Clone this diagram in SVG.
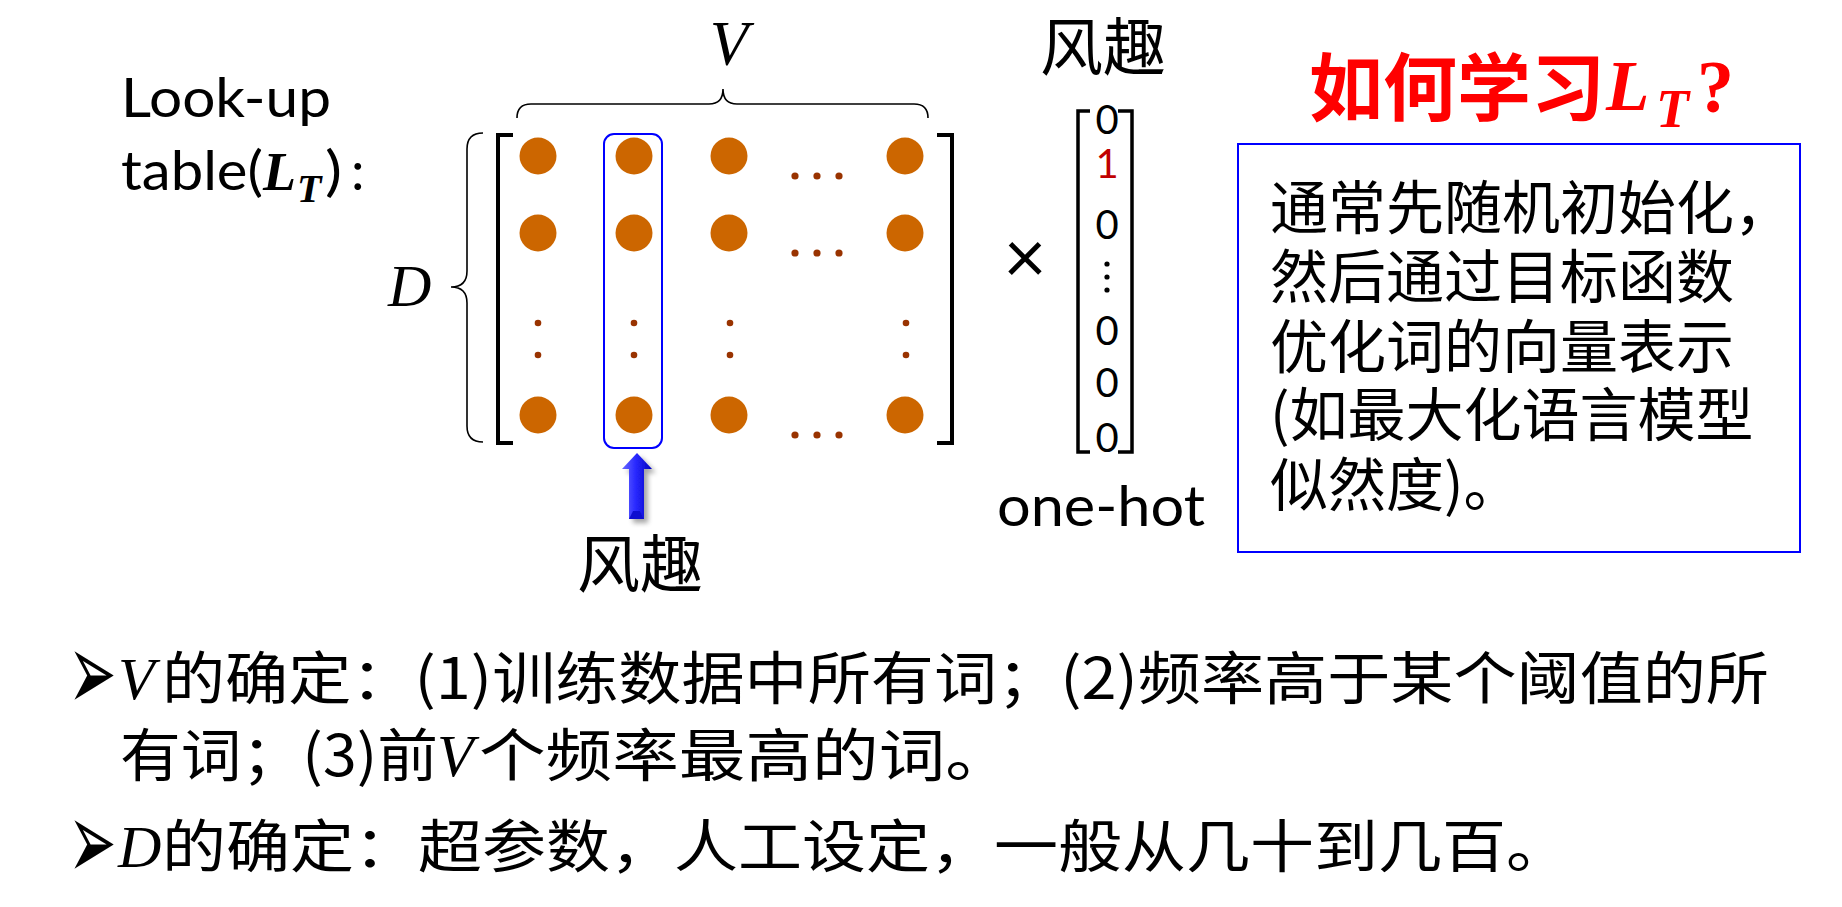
<svg xmlns="http://www.w3.org/2000/svg" width="1842" height="907" viewBox="0 0 1842 907">
<defs>
<linearGradient id="arrowGrad" x1="0" y1="0" x2="1" y2="0">
<stop offset="0" stop-color="#6a6aff"/>
<stop offset="0.45" stop-color="#2a2aff"/>
<stop offset="1" stop-color="#0000c0"/>
</linearGradient>
<filter id="shadow" x="-60%" y="-30%" width="220%" height="160%">
<feGaussianBlur in="SourceAlpha" stdDeviation="2.5"/>
<feOffset dx="4" dy="4"/>
<feComponentTransfer><feFuncA type="linear" slope="0.35"/></feComponentTransfer>
<feMerge><feMergeNode/><feMergeNode in="SourceGraphic"/></feMerge>
</filter>
</defs>
<style>
.lat{font-family:Lato,'Liberation Sans',sans-serif;fill:#000}
.cjk{font-family:'Noto Sans CJK SC',sans-serif;fill:#000}
.math{font-family:'Liberation Serif',serif;font-style:italic;fill:#000}
.bul{font-family:'DejaVu Sans',sans-serif;fill:#000}
.red{fill:#FF0000}
.big{fill:#CC6600}
.sm{fill:#993300}
.br{fill:none;stroke:#000;stroke-width:4}
.vbr{fill:none;stroke:#000;stroke-width:3.5}
.brace{fill:none;stroke:#000;stroke-width:1.6}
</style>
<rect width="1842" height="907" fill="#fff"/>

<g id="lookup-label">
<text class="lat" x="121" y="117" font-size="54" textLength="210" lengthAdjust="spacingAndGlyphs">Look-up</text>
<text class="lat" x="121" y="190" font-size="54" textLength="142" lengthAdjust="spacingAndGlyphs">table(</text>
<text class="math" x="263" y="190" font-size="54" font-weight="bold">L</text>
<text class="math" x="297" y="202" font-size="40" font-weight="bold">T</text>
<text class="lat" x="325" y="190" font-size="54" textLength="17" lengthAdjust="spacingAndGlyphs">)</text>
<text class="lat" x="351" y="190" font-size="54">:</text>
</g>

<g id="v-label">
<text class="math" x="729" y="65" font-size="63" text-anchor="middle">V</text>
</g>
<g id="d-label">
<text class="math" x="388" y="306" font-size="60">D</text>
</g>

<g id="braces">
<path class="brace" d="M517,118 Q517,104 531,104 L709,104 Q723,104 723,89 Q723,104 737,104 L914,104 Q928,104 928,118"/>
<path class="brace" d="M483,133 Q467,133 467,149 L467,271 Q467,287 451,287 Q467,287 467,303 L467,426 Q467,442 483,442"/>
</g>

<g id="matrix">
<path class="br" d="M513,135 L498,135 L498,443 L513,443"/>
<path class="br" d="M937,135 L952,135 L952,443 L937,443"/>
<g id="row1">
<circle class="big" cx="538" cy="156" r="18.5"/>
<circle class="big" cx="634" cy="156" r="18.5"/>
<circle class="big" cx="729" cy="156" r="18.5"/>
<circle class="big" cx="905" cy="156" r="18.5"/>
<circle class="sm" cx="795" cy="176" r="3.6"/>
<circle class="sm" cx="817" cy="176" r="3.6"/>
<circle class="sm" cx="839" cy="176" r="3.6"/>
</g>
<g id="row2">
<circle class="big" cx="538" cy="233" r="18.5"/>
<circle class="big" cx="634" cy="233" r="18.5"/>
<circle class="big" cx="729" cy="233" r="18.5"/>
<circle class="big" cx="905" cy="233" r="18.5"/>
<circle class="sm" cx="795" cy="253" r="3.6"/>
<circle class="sm" cx="817" cy="253" r="3.6"/>
<circle class="sm" cx="839" cy="253" r="3.6"/>
</g>
<g id="row-dots">
<circle class="sm" cx="538" cy="323" r="3.3"/><circle class="sm" cx="538" cy="355" r="3.3"/>
<circle class="sm" cx="634" cy="323" r="3.3"/><circle class="sm" cx="634" cy="355" r="3.3"/>
<circle class="sm" cx="730" cy="323" r="3.3"/><circle class="sm" cx="730" cy="355" r="3.3"/>
<circle class="sm" cx="906" cy="323" r="3.3"/><circle class="sm" cx="906" cy="355" r="3.3"/>
</g>
<g id="row3">
<circle class="big" cx="538" cy="415" r="18.5"/>
<circle class="big" cx="634" cy="415" r="18.5"/>
<circle class="big" cx="729" cy="415" r="18.5"/>
<circle class="big" cx="905" cy="415" r="18.5"/>
<circle class="sm" cx="795" cy="435" r="3.6"/>
<circle class="sm" cx="817" cy="435" r="3.6"/>
<circle class="sm" cx="839" cy="435" r="3.6"/>
</g>
</g>

<g id="column-highlight">
<rect x="604" y="134" width="58" height="314" rx="10" fill="none" stroke="#0000FF" stroke-width="2"/>
</g>

<g id="connectors">
<g filter="url(#shadow)">
<polygon points="637,453 652,469 644,469 644,519 629,519 629,469 622,469" fill="url(#arrowGrad)"/>
<polygon points="629,519 644,519 640,511 633,511" fill="#1010d0"/>
</g>
</g>

<g id="word-label-bottom">
<text class="cjk" x="640" y="587" font-size="63" text-anchor="middle">风趣</text>
</g>

<g id="times">
<text class="lat" x="1025" y="283" font-size="74" text-anchor="middle">×</text>
</g>

<g id="onehot">
<text class="cjk" x="1103" y="70" font-size="63" text-anchor="middle">风趣</text>
<path class="vbr" d="M1090,111 L1078,111 L1078,452 L1090,452"/>
<path class="vbr" d="M1118,111 L1132,111 L1132,452 L1118,452"/>
<g class="lat" font-size="40" text-anchor="middle">
<text x="1107" y="134">0</text>
<text x="1107" y="178" style="fill:#C00000">1</text>
<text x="1107" y="239">0</text>
<text x="1107" y="345">0</text>
<text x="1107" y="397">0</text>
<text x="1107" y="452">0</text>
</g>
<circle cx="1107" cy="264" r="2.6" fill="#000"/>
<circle cx="1107" cy="277" r="2.6" fill="#000"/>
<circle cx="1107" cy="290" r="2.6" fill="#000"/>
<text class="lat" x="997" y="526" font-size="56" textLength="208" lengthAdjust="spacingAndGlyphs">one-hot</text>
</g>

<g id="title">
<text class="cjk red" x="1309" y="115" font-size="74" font-weight="bold">如何学习</text>
<text class="math red" x="1606" y="110" font-size="71" font-weight="bold">L</text>
<text class="math red" x="1656" y="127" font-size="54" font-weight="bold">T</text>
<text class="red" x="1697" y="112" font-size="74" font-weight="bold" style="font-family:'Liberation Serif',serif">?</text>
</g>

<g id="note-box">
<rect x="1238" y="144" width="562" height="408" fill="#fff" stroke="#0000FF" stroke-width="2"/>
<g class="cjk" font-size="58">
<text x="1270" y="229">通常先随机初始化，</text>
<text x="1270" y="298">然后通过目标函数</text>
<text x="1270" y="368">优化词的向量表示</text>
<text x="1270" y="436">(如最大化语言模型</text>
<text x="1270" y="506">似然度)。</text>
</g>
</g>

<g id="bullet-v">
<text class="bul" transform="translate(68,676) scale(1,1.9)" x="0" y="18" font-size="58">➢</text>
<text class="math" x="118" y="699" font-size="60">V</text>
<text class="cjk" x="162" y="699" font-size="57" textLength="1607" lengthAdjust="spacingAndGlyphs">的确定：(1)训练数据中所有词；(2)频率高于某个阈值的所</text>
<text class="cjk" x="120" y="776" font-size="57" textLength="318" lengthAdjust="spacingAndGlyphs">有词；(3)前</text>
<text class="math" x="437" y="776" font-size="60">V</text>
<text class="cjk" x="479" y="776" font-size="57" textLength="533" lengthAdjust="spacingAndGlyphs">个频率最高的词。</text>
</g>

<g id="bullet-d">
<text class="bul" transform="translate(68,845) scale(1,1.9)" x="0" y="18" font-size="58">➢</text>
<text class="math" x="118" y="867" font-size="60">D</text>
<text class="cjk" x="162" y="867" font-size="57" textLength="1408" lengthAdjust="spacingAndGlyphs">的确定：超参数，人工设定，一般从几十到几百。</text>
</g>
</svg>
